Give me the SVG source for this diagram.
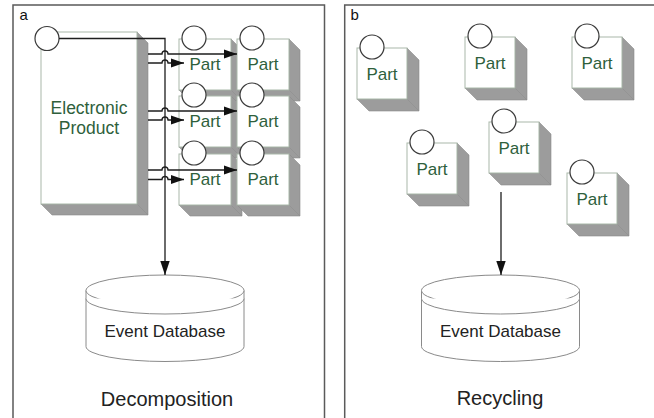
<svg xmlns="http://www.w3.org/2000/svg" width="654" height="418" viewBox="0 0 654 418">
  <style>
    .panel { fill: #ffffff; stroke: #5a5a5a; stroke-width: 1.5; }
    .front { fill: #ffffff; stroke: #a9b8a9; stroke-width: 1; }
    .side { fill: #9c9c9c; stroke: #8c8c8c; stroke-width: 0.6; }
    .port { fill: #ffffff; stroke: #3a3a3a; stroke-width: 1.2; }
    .lbl { font-family: "Liberation Sans", Arial, sans-serif; fill: #2f5f3c; text-anchor: middle; }
    .part { font-size: 17px; }
    .db { fill: #ffffff; stroke: #8a8a8a; stroke-width: 1; }
    .dbtext { font-family: "Liberation Sans", Arial, sans-serif; font-size: 17px; fill: #222222; text-anchor: middle; }
    .caption { font-family: "Liberation Sans", Arial, sans-serif; font-size: 20px; fill: #222222; text-anchor: middle; }
    .tag { font-family: "Liberation Sans", Arial, sans-serif; font-size: 15px; fill: #111111; }
    .wire { fill: none; stroke: #1e1e1e; stroke-width: 1.3; }
  </style>
  <defs>
    <marker id="arrow" markerUnits="userSpaceOnUse" markerWidth="14" markerHeight="10" refX="13" refY="5" orient="auto">
      <path d="M0,0.5 L13,5 L0,9.5 Z" fill="#111111"/>
    </marker>
    <marker id="arrowDown" markerUnits="userSpaceOnUse" markerWidth="15" markerHeight="10" refX="14" refY="5" orient="auto">
      <path d="M0,0.3 L14,5 L0,9.7 Z" fill="#111111"/>
    </marker>
    <!-- part block: 52x51 front with 11px extrusion, port circle at top-left -->
    <g id="partA">
      <polygon class="side" points="52,0 63,11 63,62 52,51"/>
      <polygon class="side" points="0,51 52,51 63,62 11,62"/>
      <rect class="front" x="0" y="0" width="52" height="51"/>
      <circle class="port" cx="15" cy="-1" r="12"/>
      <text class="lbl part" x="26" y="31">Part</text>
    </g>
    <g id="partB">
      <polygon class="side" points="50,0 62,12 62,63 50,51"/>
      <polygon class="side" points="0,51 50,51 62,63 12,63"/>
      <rect class="front" x="0" y="0" width="50" height="51"/>
      <circle class="port" cx="15" cy="-1" r="12"/>
      <text class="lbl part" x="25" y="32">Part</text>
    </g>
    <!-- event database cylinder centred on x=0 -->
    <g id="database">
      <path class="db" d="M-79,290.5 V346.5 A79,15 0 0 0 79,346.5 V290.5"/>
      <ellipse class="db" cx="0" cy="290.5" rx="79" ry="15.5"/>
      <path class="db" d="M-79,298.5 A79,15.5 0 0 0 79,298.5"/>
      <text class="dbtext" x="0" y="337">Event Database</text>
    </g>
  </defs>

  <!-- panel frames -->
  <rect class="panel" x="13" y="5" width="311.5" height="430"/>
  <rect class="panel" x="344.7" y="5" width="330" height="430"/>
  <text class="tag" x="19.5" y="19.5">a</text>
  <text class="tag" x="350.5" y="19.5">b</text>

  <!-- panel a: decomposition -->
  <g id="electronic-product">
    <polygon class="side" points="137,32 148,43 148,215 137,204"/>
    <polygon class="side" points="41,204 137,204 148,215 52,215"/>
    <rect class="front" x="41" y="32" width="96" height="172"/>
    <circle class="port" cx="47" cy="38.5" r="12"/>
    <text class="lbl" font-size="17.5" x="89" y="113.5">Electronic</text>
    <text class="lbl" font-size="17.5" x="89" y="133.5">Product</text>
  </g>
  <g id="part-a11"><use href="#partA" x="179" y="39"/></g>
  <g id="part-a12"><use href="#partA" x="237" y="39"/></g>
  <g id="part-a21"><use href="#partA" x="179" y="96"/></g>
  <g id="part-a22"><use href="#partA" x="237" y="96"/></g>
  <g id="part-a31"><use href="#partA" x="179" y="154"/></g>
  <g id="part-a32"><use href="#partA" x="237" y="154"/></g>
  <g id="database-a"><use href="#database" x="165" y="0"/></g>

  <!-- panel b: recycling -->
  <g id="part-b1"><use href="#partB" x="357" y="48"/></g>
  <g id="part-b2"><use href="#partB" x="465" y="37"/></g>
  <g id="part-b3"><use href="#partB" x="572" y="37"/></g>
  <g id="part-b4"><use href="#partB" x="407" y="143"/></g>
  <g id="part-b5"><use href="#partB" x="489" y="122"/></g>
  <g id="part-b6"><use href="#partB" x="567" y="173"/></g>
  <g id="database-b"><use href="#database" x="500.5" y="0"/></g>

  <!-- connectors -->
  <g id="connectors">
    <path class="wire" d="M59,38.5 H165 V275" marker-end="url(#arrowDown)"/>
    <path class="wire" d="M148,54 H162 a3,3 0 0 1 6,0 H237" marker-end="url(#arrow)"/>
    <path class="wire" d="M148,63 H162 a3,3 0 0 1 6,0 H184" marker-end="url(#arrow)"/>
    <path class="wire" d="M148,111 H162 a3,3 0 0 1 6,0 H237" marker-end="url(#arrow)"/>
    <path class="wire" d="M148,120 H162 a3,3 0 0 1 6,0 H184" marker-end="url(#arrow)"/>
    <path class="wire" d="M148,170 H162 a3,3 0 0 1 6,0 H237" marker-end="url(#arrow)"/>
    <path class="wire" d="M148,179.5 H162 a3,3 0 0 1 6,0 H184" marker-end="url(#arrow)"/>
    <path class="wire" d="M501,192 V275" marker-end="url(#arrowDown)"/>
  </g>

  <!-- captions -->
  <text class="caption" x="167" y="406">Decomposition</text>
  <text class="caption" x="500" y="405">Recycling</text>
</svg>
